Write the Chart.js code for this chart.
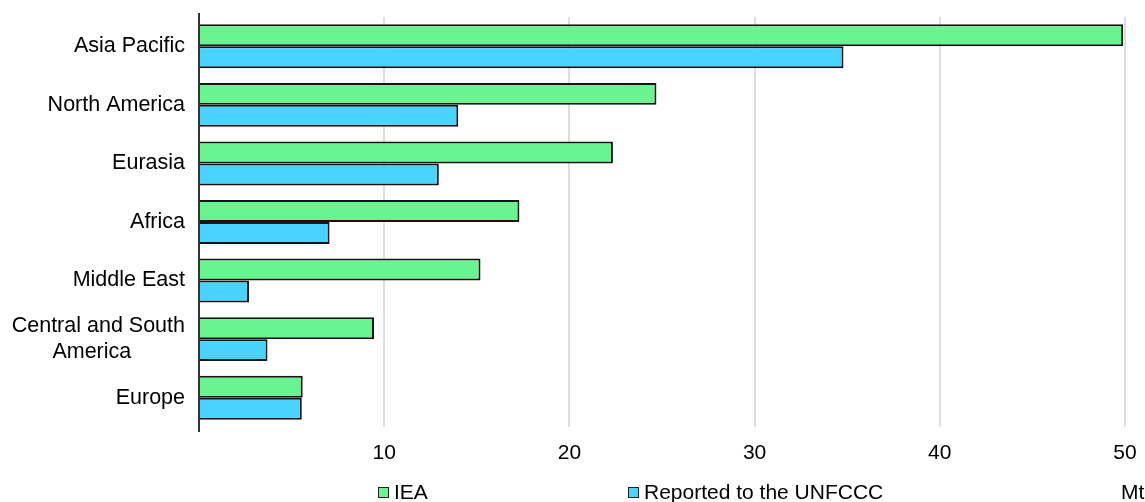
<!DOCTYPE html>
<html>
<head>
<meta charset="utf-8">
<script src="https://cdn.jsdelivr.net/npm/chart.js@4"></script>
<style>
    body { margin: 0; background: #fff; }
    #wrap { position: relative; width: 1145px; height: 502px; font-family: "Liberation Sans", Arial, sans-serif; }
    #chart { position: absolute; left: 0; top: 0; }
    .legend-item { position: absolute; top: 480px; font-size: 21px; color: #000; white-space: nowrap; line-height: 24px; }
    .legend-box { display: inline-block; width: 9px; height: 9px; border: 1px solid #222; margin-right: 5px; vertical-align: 1px; }
</style>
</head>
<body>
<div id="wrap">
    <canvas id="chart" width="1145" height="502"></canvas>
    <div id="legend"></div>
</div>
<script>
// Regions (top to bottom)
const regions = ['Asia Pacific', 'North America', 'Eurasia', 'Africa', 'Middle East', ['Central and South', 'America         '], 'Europe'];
// Emissions, Mt
const ieaValues = [49.9, 24.7, 22.35, 17.3, 15.2, 9.45, 5.6];
const unfcccValues = [34.8, 14.0, 12.95, 7.05, 2.7, 3.7, 5.55];
const seriesNames = ['IEA', 'Reported to the UNFCCC'];
const xTicks = [10, 20, 30, 40, 50];
const unitLabel = 'Mt';

const green = '#68f490';
const blue = '#48d4ff';
const fontFamily = '"Liberation Sans", Arial, sans-serif';

// y axis line, drawn a little past the plot area like the original
const axisLine = {
    id: 'axisLine',
    afterDraw(chart) {
        const { ctx, chartArea, scales } = chart;
        const x = scales.x.getPixelForValue(0);
        ctx.save();
        ctx.strokeStyle = '#333';
        ctx.lineWidth = 2;
        ctx.beginPath();
        ctx.moveTo(x, chartArea.top - 4);
        ctx.lineTo(x, chartArea.bottom + 5);
        ctx.stroke();
        ctx.restore();
    }
};

const ctx = document.getElementById('chart').getContext('2d');
new Chart(ctx, {
    type: 'bar',
    data: {
        labels: regions,
        datasets: [
            {
                label: seriesNames[0],
                data: ieaValues,
                backgroundColor: green,
                borderColor: '#151515',
                borderWidth: 2,
                categoryPercentage: 0.75,
                barPercentage: 1
            },
            {
                label: seriesNames[1],
                data: unfcccValues,
                backgroundColor: blue,
                borderColor: '#151515',
                borderWidth: 2,
                categoryPercentage: 0.75,
                barPercentage: 1
            }
        ]
    },
    options: {
        indexAxis: 'y',
        responsive: false,
        animation: false,
        layout: { padding: { top: 17, right: 20, left: 0, bottom: 0 } },
        plugins: {
            legend: { display: false },
            tooltip: { enabled: false }
        },
        scales: {
            x: {
                min: 0,
                max: 50,
                afterFit: (scale) => {
                    scale.height = 75;
                    scale.paddingLeft = 0;
                    scale.paddingRight = 0;
                },
                afterBuildTicks: (scale) => {
                    scale.ticks = [0, ...xTicks].map(v => ({ value: v }));
                },
                ticks: {
                    color: '#000',
                    font: { family: fontFamily, size: 21 },
                    padding: 14,
                    maxRotation: 0,
                    callback: (v) => v === 0 ? '' : v
                },
                grid: {
                    drawTicks: false,
                    lineWidth: 2,
                    color: (c) => c.tick && c.tick.value === 0 ? 'rgba(0,0,0,0)' : '#dedede'
                },
                border: { display: false }
            },
            y: {
                afterFit: (scale) => {
                    scale.width = 199;
                    scale.paddingTop = 0;
                    scale.paddingBottom = 0;
                },
                ticks: {
                    color: '#000',
                    font: { family: fontFamily, size: 21.5, lineHeight: 1.17 },
                    padding: 14
                },
                grid: { display: false, drawTicks: false },
                border: { display: false }
            }
        }
    },
    plugins: [axisLine]
});

// legend + unit label
const legend = document.getElementById('legend');
const legendItems = [
    { text: seriesNames[0], color: green, left: 378 },
    { text: seriesNames[1], color: blue, left: 628 }
];
legendItems.forEach(item => {
    const el = document.createElement('div');
    el.className = 'legend-item';
    el.style.left = item.left + 'px';
    el.innerHTML = `<span class="legend-box" style="background:${item.color}"></span>${item.text}`;
    legend.appendChild(el);
});
const unit = document.createElement('div');
unit.className = 'legend-item';
unit.style.left = '1121px';
unit.textContent = unitLabel;
legend.appendChild(unit);
</script>
</body>
</html>
